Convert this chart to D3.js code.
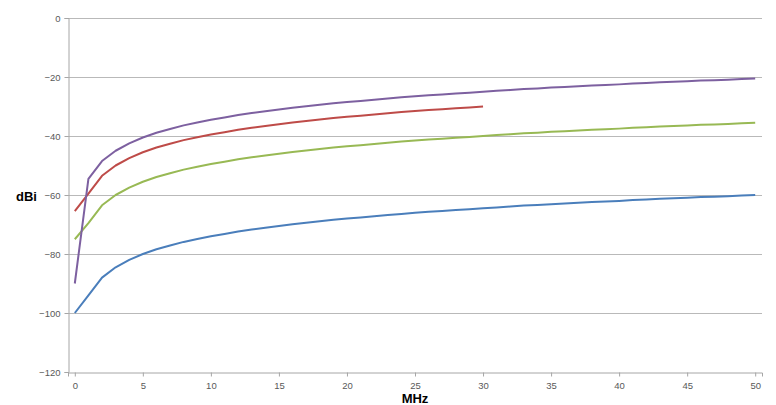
<!DOCTYPE html>
<html>
<head>
<meta charset="utf-8">
<script src="https://cdn.jsdelivr.net/npm/d3@7"></script>
<style>
  body { margin: 0; background: #fff; }
  .tick text { font-family: "Liberation Sans", Arial, sans-serif; font-size: 9.5px; fill: #595959; }
  .axis-title { font-family: "Liberation Sans", Arial, sans-serif; font-size: 13px; font-weight: bold; fill: #000; }
</style>
</head>
<body>
<svg id="chart" width="776" height="405"></svg>
<script>
// frequencies (MHz) 0..50
var freqs = d3.range(0, 51);

// dBi values
var blueVals = [-100, -94, -88, -84.5, -82, -80, -78.4, -77.1, -75.9, -74.9, -74,
  -73.2, -72.4, -71.7, -71.1, -70.5, -69.9, -69.4, -68.9, -68.4, -68,
  -67.6, -67.2, -66.8, -66.4, -66, -65.7, -65.4, -65.1, -64.8, -64.5,
  -64.2, -63.9, -63.6, -63.4, -63.1, -62.9, -62.6, -62.4, -62.2, -62,
  -61.7, -61.5, -61.3, -61.1, -60.9, -60.7, -60.6, -60.4, -60.2, -60];

var redVals = [-65.5, -59.5, -53.5, -50, -47.5, -45.5, -43.9, -42.6, -41.4, -40.4, -39.5,
  -38.7, -37.9, -37.2, -36.6, -36, -35.4, -34.9, -34.4, -33.9, -33.5,
  -33.1, -32.7, -32.3, -31.9, -31.5, -31.2, -30.9, -30.6, -30.3, -30];

var greenVals = [-75, -69.5, -63.5, -60, -57.5, -55.5, -53.9, -52.6, -51.4, -50.4, -49.5,
  -48.7, -47.9, -47.2, -46.6, -46, -45.4, -44.9, -44.4, -43.9, -43.5,
  -43.1, -42.7, -42.3, -41.9, -41.5, -41.2, -40.9, -40.6, -40.3, -40,
  -39.7, -39.4, -39.1, -38.9, -38.6, -38.4, -38.1, -37.9, -37.7, -37.5,
  -37.2, -37, -36.8, -36.6, -36.4, -36.2, -36.1, -35.9, -35.7, -35.5];

var purpleVals = [-90, -54.5, -48.5, -45, -42.5, -40.5, -38.9, -37.6, -36.4, -35.4, -34.5,
  -33.7, -32.9, -32.2, -31.6, -31, -30.4, -29.9, -29.4, -28.9, -28.5,
  -28.1, -27.7, -27.3, -26.9, -26.5, -26.2, -25.9, -25.6, -25.3, -25,
  -24.7, -24.4, -24.1, -23.9, -23.6, -23.4, -23.1, -22.9, -22.7, -22.5,
  -22.2, -22, -21.8, -21.6, -21.4, -21.2, -21.1, -20.9, -20.7, -20.5];

var xTicks = [0, 5, 10, 15, 20, 25, 30, 35, 40, 45, 50];
var yTicks = [0, -20, -40, -60, -80, -100, -120];

var seriesList = [
  {vals: blueVals, color: "#4a7ebb"},
  {vals: redVals, color: "#be4b48"},
  {vals: greenVals, color: "#98b954"},
  {vals: purpleVals, color: "#7d60a0"}
];

// chart area
var margin = {top: 18, right: 14, bottom: 33, left: 68},
    width = 776 - margin.left - margin.right,
    height = 405 - margin.top - margin.bottom;

var svg = d3.select("#chart")
    .append("g")
    .attr("transform", `translate(${margin.left},${margin.top})`);

var x = d3.scaleLinear().domain([-0.5, 50.5]).range([0, width]);
var y = d3.scaleLinear().domain([-120, 0]).range([height, 0]);

// horizontal gridlines
svg.selectAll(".grid")
    .data(yTicks.filter(d => d != -120))
    .join("line")
    .attr("class", "grid")
    .attr("x1", 0).attr("x2", width)
    .attr("y1", d => Math.round(y(d)) + 0.5)
    .attr("y2", d => Math.round(y(d)) + 0.5)
    .attr("stroke", "#b9b9b9")
    .attr("stroke-width", 1);

// y axis
var yAxis = svg.append("g")
    .attr("transform", "translate(0.5,0)")
    .call(d3.axisLeft(y).tickValues(yTicks).tickSize(4).tickPadding(4).tickFormat(d3.format("d")));

// x axis
var xAxis = svg.append("g")
    .attr("transform", `translate(0,${Math.round(height) + 0.5})`)
    .call(d3.axisBottom(x).tickValues(xTicks).tickSize(4).tickPadding(6));

[yAxis, xAxis].forEach(function(a) {
    a.select(".domain").attr("stroke", "#a6a6a6");
    a.selectAll(".tick line").attr("stroke", "#a6a6a6");
});

// lines
var line = d3.line()
    .x((d, i) => x(freqs[i]))
    .y(d => y(d));

svg.selectAll(".series")
    .data(seriesList)
    .join("path")
    .attr("class", "series")
    .attr("fill", "none")
    .attr("stroke", d => d.color)
    .attr("stroke-width", 2)
    .attr("stroke-linejoin", "round")
    .attr("d", d => line(d.vals));

// axis titles
d3.select("#chart").append("text")
    .attr("class", "axis-title")
    .attr("x", 16).attr("y", 201)
    .text("dBi");

d3.select("#chart").append("text")
    .attr("class", "axis-title")
    .attr("x", margin.left + x(25)).attr("y", 403)
    .attr("text-anchor", "middle")
    .text("MHz");
</script>
</body>
</html>
